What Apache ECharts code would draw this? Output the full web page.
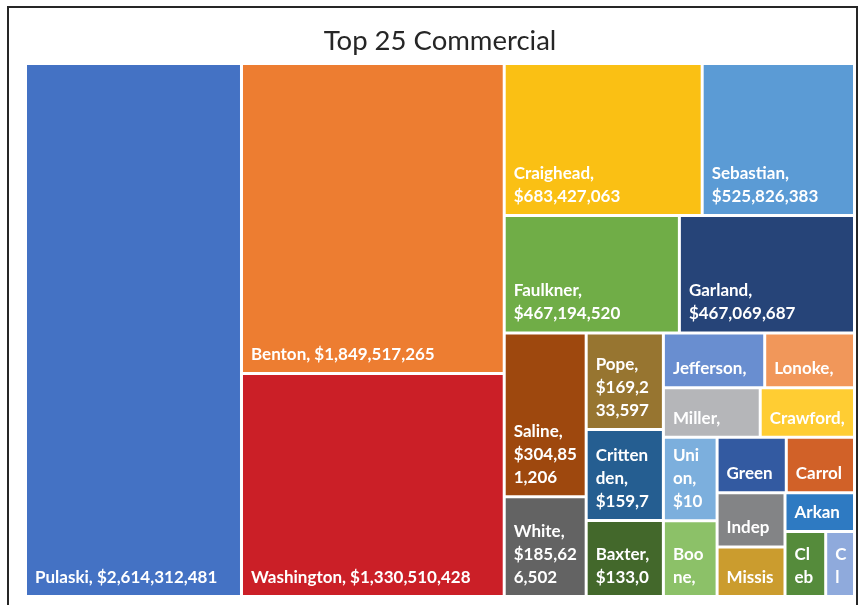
<!DOCTYPE html>
<html>
<head>
<meta charset="utf-8">
<script src="https://cdn.jsdelivr.net/npm/echarts@6/dist/echarts.min.js"></script>
<style>
  html, body { margin: 0; padding: 0; background: #fff; }
  #chart { width: 860px; height: 605px; }
</style>
</head>
<body>
<div id="chart"></div>
<script>
const titleText = 'Top 25 Commercial';

const counties = [
  'Pulaski', 'Benton', 'Washington', 'Craighead', 'Sebastian',
  'Faulkner', 'Garland', 'Saline', 'White', 'Pope',
  'Crittenden', 'Baxter', 'Jefferson', 'Lonoke', 'Miller',
  'Crawford', 'Union', 'Boone', 'Greene', 'Carroll',
  'Independence', 'Mississippi', 'Arkansas', 'Cleburne', 'Clark'
];

const values = [
  2614312481, 1849517265, 1330510428, 683427063, 525826383,
  467194520, 467069687, 304851206, 185626502, 169233597,
  159700190, 133052044, 126284318, 111905950, 108375849,
  105506399, 102074596, 92316270, 87416660, 86185654,
  83512440, 76421380, 61045210, 60122870, 42530640
];

const colors = [
  '#4472C4', '#ED7D31', '#CB1F27', '#FAC014', '#5B9BD5',
  '#70AD47', '#264478', '#9E480E', '#636363', '#977530',
  '#255E91', '#43682B', '#698ED0', '#F1975A', '#B5B6B9',
  '#FFCD33', '#7CAFDD', '#8CC168', '#335AA1', '#D16128',
  '#838486', '#CB9C2E', '#2E7AC2', '#558B3B', '#8FAADC'
];

const treeData = counties.map((name, i) => ({
  name: name,
  value: values[i],
  itemStyle: { color: colors[i] }
}));

const LABEL_FONT = 'bold 17px Lato';
const LABEL_PAD_X = 15;
const measureCtx = document.createElement('canvas').getContext('2d');
function textWidth(t) {
  measureCtx.font = LABEL_FONT;
  return measureCtx.measureText(t).width;
}

const chart = echarts.init(document.getElementById('chart'), null, { renderer: 'canvas' });

function nodeWidth(dataIndex) {
  try {
    const data = chart.getModel().getSeriesByIndex(0).getData();
    const lay = data.getItemLayout(dataIndex);
    return lay ? lay.width : null;
  } catch (e) {
    return null;
  }
}

chart.setOption({
  animation: false,
  backgroundColor: '#ffffff',
  title: {
    text: titleText,
    left: 435,
    textAlign: 'center',
    top: 22,
    textStyle: {
      fontFamily: 'Lato',
      fontWeight: 'normal',
      fontSize: 27.5,
      color: '#262626'
    }
  },
  graphic: [{
    type: 'rect',
    shape: { x: 8, y: 7, width: 849, height: 700 },
    style: { fill: null, stroke: '#262626', lineWidth: 2 },
    silent: true
  }],
  series: [{
    type: 'treemap',
    left: 27,
    top: 65,
    right: 7,
    bottom: 10,
    roam: false,
    nodeClick: false,
    breadcrumb: { show: false },
    squareRatio: 0.7,
    sort: 'desc',
    data: treeData,
    levels: [
      { itemStyle: { borderWidth: 0, gapWidth: 3, borderColor: '#fff' } },
      { itemStyle: { borderWidth: 0, gapWidth: 0 } }
    ],
    label: {
      show: true,
      position: 'insideBottomLeft',
      distance: 0,
      padding: [4, 7, 6, 8],
      overflow: 'breakAll',
      fontFamily: 'Lato',
      fontWeight: 'bold',
      fontSize: 17,
      lineHeight: 23,
      color: '#ffffff',
      formatter: function (p) {
        const money = '$' + Number(p.value).toLocaleString('en-US');
        const one = p.name + ', ' + money;
        const w = nodeWidth(p.dataIndex);
        if (w != null && textWidth(one) + LABEL_PAD_X <= w) {
          return one;
        }
        return p.name + ',\n' + money;
      }
    },
    upperLabel: { show: false }
  }]
});
</script>
</body>
</html>
